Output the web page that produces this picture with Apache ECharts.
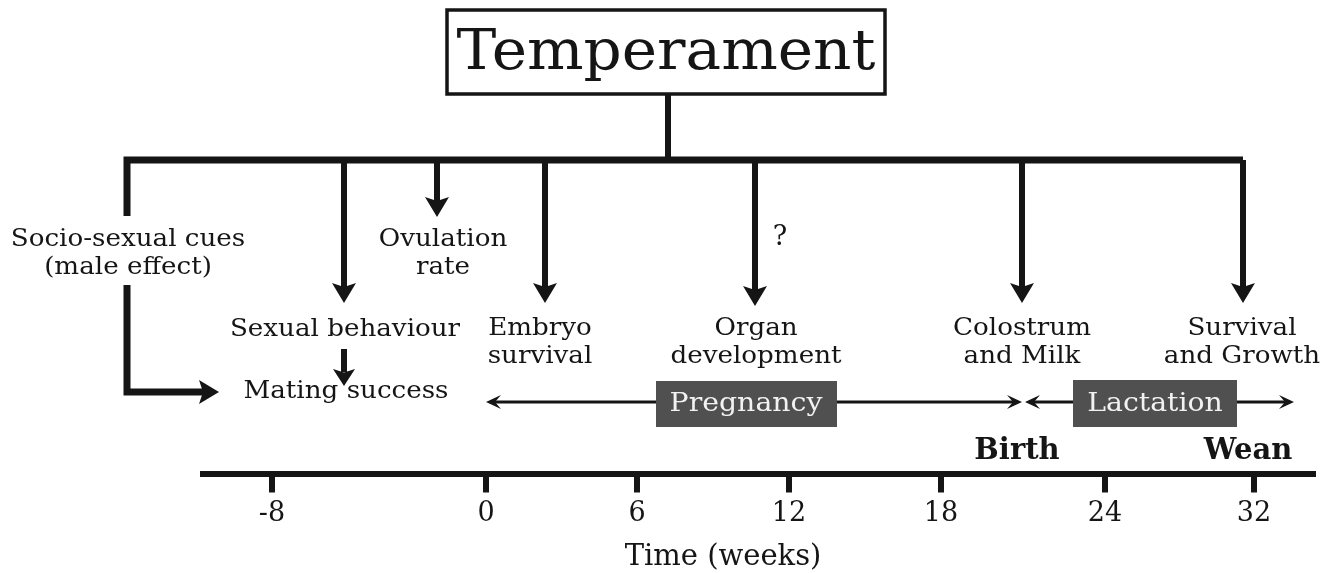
<!DOCTYPE html>
<html>
<head>
<meta charset="utf-8">
<script src="https://cdn.jsdelivr.net/npm/echarts@6/dist/echarts.min.js"></script>
<style>html,body{margin:0;padding:0;background:#fff}#c{width:1337px;height:573px}</style>
</head>
<body>
<div id="c"></div>
<script>
// ---------- content (texts / values) ----------
const titleText = 'Temperament';
const influenceLabels = ['Socio-sexual cues\n(male effect)', 'Sexual behaviour', 'Ovulation\nrate',
  'Embryo\nsurvival', 'Organ\ndevelopment', 'Colostrum\nand Milk', 'Survival\nand Growth'];
const outcomeLabel = 'Mating success';
const uncertainMark = '?';
const phaseLabels = ['Pregnancy', 'Lactation'];
const eventLabels = ['Birth', 'Wean'];
const weekTicks = [-8, 0, 6, 12, 18, 24, 32];
const axisTitle = 'Time (weeks)';

// ---------- layout (schematic diagram coordinates, 1 unit = 1 px) ----------
const tickPos = [272, 486, 637, 789, 941, 1105, 1254];
const branchX = [127, 344, 437, 545, 755, 1022, 1243];
const branchTip = [null, 303, 217, 303, 306, 303, 303];
const labelPos = [[128, 254], [345, 330], [443, 254], [540, 343], [756, 343], [1022, 343], [1242, 343]];
const barY = 160;
const FONT = "'DejaVu Serif', serif";
const INK = '#151515';
const BOX = '#505050';
const SX = 1.09; // horizontal stretch of the original lettering

const shapes = [];
// title box
shapes.push({k: 'rect', x1: 447, y1: 10, x2: 885, y2: 94, stroke: INK, lw: 3.5, fill: '#fff'});
shapes.push({k: 'text', x: 666, y: 54, t: titleText, size: 56, sx: 1.065});
// stem + branch bar
shapes.push({k: 'poly', pts: [[668, 94], [668, barY]], lw: 6});
shapes.push({k: 'poly', pts: [[branchX[0], 216], [branchX[0], barY], [branchX[6], barY]], lw: 7});
// socio-sexual elbow arrow
shapes.push({k: 'poly', pts: [[branchX[0], 285], [branchX[0], 392], [204, 392]], lw: 7});
shapes.push({k: 'head', x: 219, y: 392, dx: 1, dy: 0, len: 20, hw: 12});
// vertical arrows
for (let i = 1; i < branchX.length; i++) {
  shapes.push({k: 'poly', pts: [[branchX[i], barY], [branchX[i], branchTip[i] - 16]], lw: 6});
  shapes.push({k: 'head', x: branchX[i], y: branchTip[i], dx: 0, dy: 1, len: 20, hw: 12});
}
// behaviour -> mating
shapes.push({k: 'poly', pts: [[344, 349], [344, 372]], lw: 6});
shapes.push({k: 'head', x: 344, y: 386, dx: 0, dy: 1, len: 17, hw: 11});
// labels
influenceLabels.forEach((t, i) => shapes.push({k: 'text', x: labelPos[i][0], y: labelPos[i][1], t: t, size: 24, lh: 28, sx: SX}));
shapes.push({k: 'text', x: 346, y: 392, t: outcomeLabel, size: 24, sx: SX});
shapes.push({k: 'text', x: 780, y: 238, t: uncertainMark, size: 27});
// timeline phase arrows
shapes.push({k: 'poly', pts: [[490, 402], [1018, 402]], lw: 3});
shapes.push({k: 'thin', x: 486, y: 402, dx: -1});
shapes.push({k: 'thin', x: 1022, y: 402, dx: 1});
shapes.push({k: 'poly', pts: [[1029, 402], [1289, 402]], lw: 3});
shapes.push({k: 'thin', x: 1025, y: 402, dx: -1});
shapes.push({k: 'thin', x: 1294, y: 402, dx: 1});
shapes.push({k: 'rect', x1: 656, y1: 381, x2: 837, y2: 427, fill: BOX});
shapes.push({k: 'text', x: 746, y: 404, t: phaseLabels[0], size: 26, sx: SX, fill: '#f2f2f2'});
shapes.push({k: 'rect', x1: 1073, y1: 380, x2: 1237, y2: 427, fill: BOX});
shapes.push({k: 'text', x: 1155, y: 404, t: phaseLabels[1], size: 26, sx: SX, fill: '#f2f2f2'});
// events
shapes.push({k: 'text', x: 1017, y: 451, t: eventLabels[0], size: 29, bold: true});
shapes.push({k: 'text', x: 1248, y: 451, t: eventLabels[1], size: 29, bold: true});

function renderItem(params, api) {
  const s = shapes[params.dataIndex];
  const P = (x, y) => api.coord([x, y]);
  if (s.k === 'rect') {
    const a = P(s.x1, s.y1), b = P(s.x2, s.y2);
    return {type: 'rect', shape: {x: a[0], y: a[1], width: b[0] - a[0], height: b[1] - a[1]},
      style: {fill: s.fill || 'none', stroke: s.stroke || null, lineWidth: s.lw || 0}};
  }
  if (s.k === 'poly') {
    return {type: 'polyline', shape: {points: s.pts.map(p => P(p[0], p[1]))},
      style: {stroke: INK, lineWidth: s.lw, fill: null, lineJoin: 'miter', lineCap: 'butt'}};
  }
  if (s.k === 'head') {
    const t = P(s.x, s.y);
    const bx = t[0] - s.dx * s.len, by = t[1] - s.dy * s.len;
    const nx = -s.dy, ny = s.dx;
    const nb = 0.2; // notch
    return {type: 'polygon', shape: {points: [t,
      [bx + nx * s.hw, by + ny * s.hw],
      [t[0] - s.dx * s.len * (1 - nb), t[1] - s.dy * s.len * (1 - nb)],
      [bx - nx * s.hw, by - ny * s.hw]]}, style: {fill: INK}};
  }
  if (s.k === 'thin') {
    const t = P(s.x, s.y);
    const len = 15, hw = 7;
    return {type: 'polygon', shape: {points: [t,
      [t[0] - s.dx * len, t[1] - hw],
      [t[0] - s.dx * len * 0.6, t[1]],
      [t[0] - s.dx * len, t[1] + hw]]}, style: {fill: INK}};
  }
  if (s.k === 'text') {
    const p = P(s.x, s.y);
    return {type: 'text', x: p[0], y: p[1], scaleX: s.sx || 1, style: {text: s.t, fill: s.fill || INK,
      fontSize: s.size, fontFamily: FONT, fontWeight: s.bold ? 'bold' : 'normal',
      align: 'center', verticalAlign: 'middle', lineHeight: s.lh || s.size * 1.15}};
  }
  return null;
}

const chart = echarts.init(document.getElementById('c'), null, {renderer: 'canvas'});
chart.setOption({
  backgroundColor: '#fff',
  animation: false,
  grid: [
    {left: 0, right: 0, top: 0, bottom: 0},
    {left: 200, right: 21, top: 300, bottom: 99.5}
  ],
  xAxis: [
    {gridIndex: 0, type: 'value', min: 0, max: 1337, show: false},
    {gridIndex: 1, type: 'value', min: 200, max: 1316, position: 'bottom',
      axisLine: {show: true, lineStyle: {color: INK, width: 6, cap: 'butt'}},
      axisTick: {show: true, customValues: tickPos, length: 19, lineStyle: {color: INK, width: 6, cap: 'butt'}},
      axisLabel: {show: true, customValues: tickPos, margin: 27, color: INK, fontSize: 27, fontFamily: FONT,
        formatter: v => String(weekTicks[tickPos.indexOf(v)])},
      splitLine: {show: false},
      name: axisTitle, nameLocation: 'middle', nameGap: 69,
      nameTextStyle: {color: INK, fontSize: 29, fontFamily: FONT, padding: [0, 70, 0, 0], verticalAlign: 'top'}}
  ],
  yAxis: [
    {gridIndex: 0, type: 'value', min: 0, max: 573, inverse: true, show: false},
    {gridIndex: 1, type: 'value', min: 0, max: 1, show: false}
  ],
  series: [{
    type: 'custom', xAxisIndex: 0, yAxisIndex: 0, clip: false,
    renderItem: renderItem,
    data: shapes.map((_, i) => [i, 0])
  }]
});
</script>
</body>
</html>
